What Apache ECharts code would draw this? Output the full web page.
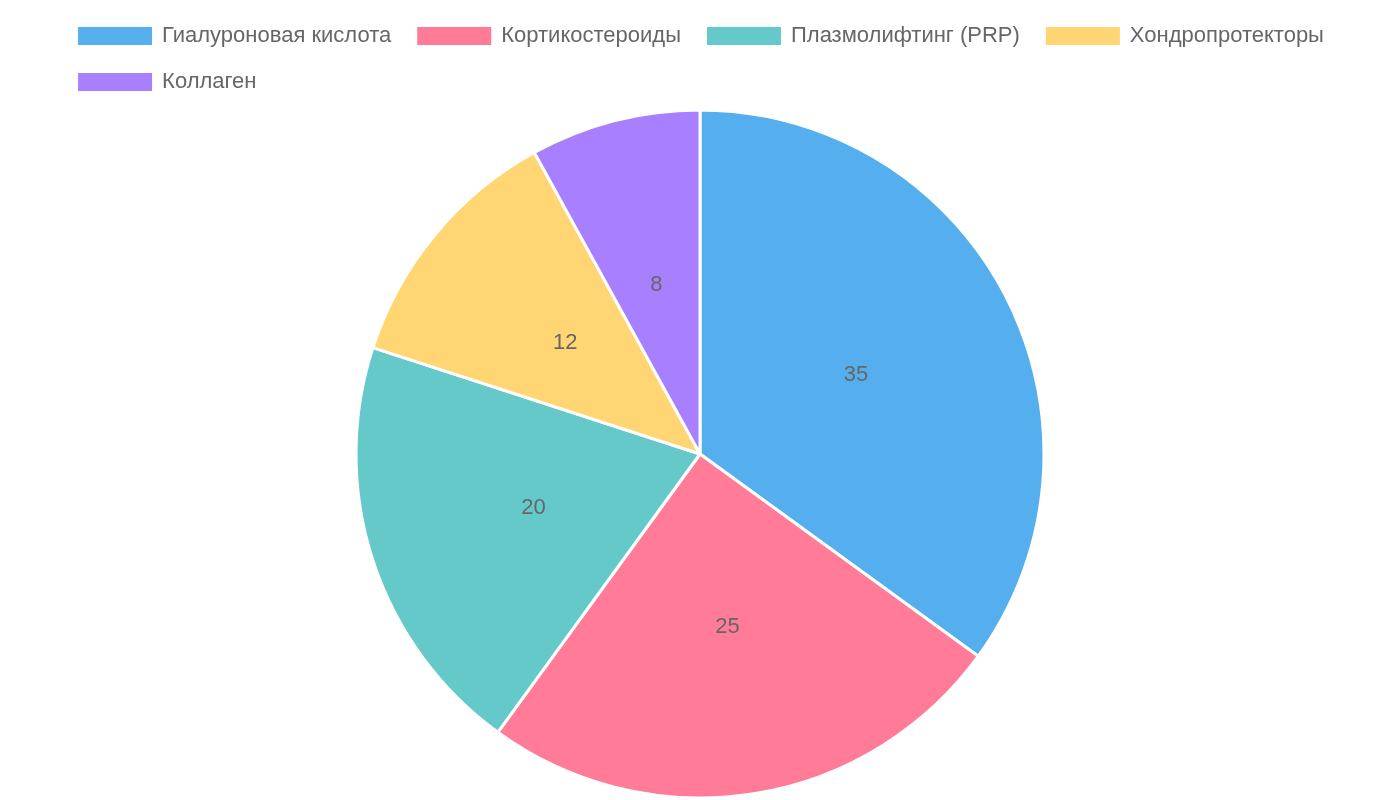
<!DOCTYPE html>
<html><head><meta charset="utf-8">
<script src="https://cdn.jsdelivr.net/npm/echarts@6/dist/echarts.min.js"></script>
<style>html,body{margin:0;padding:0;background:#fff}#c{width:1400px;height:800px}</style>
</head><body><div id="c"></div>
<script>
const categories = ["Гиалуроновая кислота","Кортикостероиды","Плазмолифтинг (PRP)","Хондропротекторы","Коллаген"];
const values = [35,25,20,12,8];
const colors = ["#55AFEF","#FF7B97","#66C9C9","#FFD673","#A87FFE"];
const chart = echarts.init(document.getElementById('c'));
chart.setOption({
  animation:false,
  color: colors,
  legend:{
    top:20, left:'center', width:1390,
    itemWidth:76, itemHeight:20, itemGap:24, icon:'rect',
    textStyle:{fontSize:22, color:'#666', fontFamily:'Liberation Sans, Arial', padding:[0,0,0,4]},
    data: categories
  },
  series:[{
    type:'pie', center:[700,454], radius:[0,344], startAngle:90, clockwise:true,
    itemStyle:{borderColor:'#fff', borderWidth:3},
    label:{position:'inside', formatter:'{c}', fontSize:22, color:'#666', fontFamily:'Liberation Sans, Arial'},
    labelLine:{show:false},
    data: categories.map((n,i)=>({name:n, value:values[i]}))
  }]
});
</script></body></html>
